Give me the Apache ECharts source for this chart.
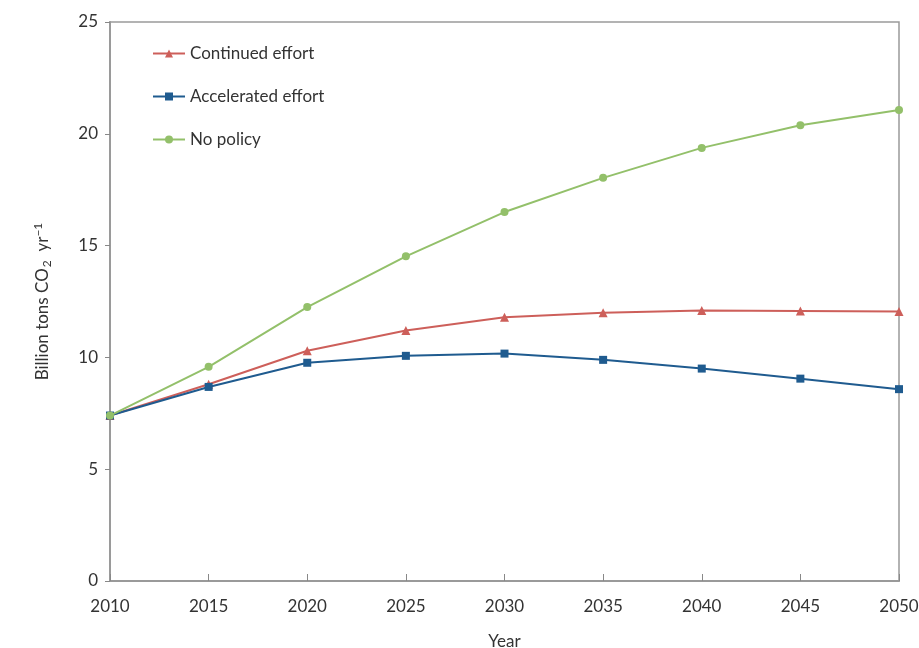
<!DOCTYPE html>
<html>
<head>
<meta charset="utf-8">
<script src="https://cdn.jsdelivr.net/npm/echarts@6/dist/echarts.min.js"></script>
<style>html,body{margin:0;padding:0;background:#fff}#c{width:919px;height:648px}</style>
</head>
<body>
<div id="c"></div>
<script>
const years = [2010, 2015, 2020, 2025, 2030, 2035, 2040, 2045, 2050];
const continuedEffort = [7.4, 8.8, 10.3, 11.2, 11.8, 12.0, 12.1, 12.08, 12.05];
const acceleratedEffort = [7.4, 8.68, 9.76, 10.07, 10.17, 9.89, 9.5, 9.05, 8.58];
const noPolicy = [7.4, 9.58, 12.25, 14.52, 16.5, 18.03, 19.37, 20.38, 21.06];
const seriesNames = ['Continued effort', 'Accelerated effort', 'No policy'];

const FONT = 'Lato, "Open Sans", sans-serif';
const chart = echarts.init(document.getElementById('c'));
function pts(arr){ return years.map((y,i)=>[y, arr[i]]); }
chart.setOption({
  animation: false,
  textStyle: { fontFamily: FONT },
  grid: { left: 110, right: 20, top: 22, bottom: 67, show: true, borderColor: '#9a9a9a', borderWidth: 1.5,
          outerBoundsMode: 'none', containLabel: false },
  legend: {
    orient: 'vertical', left: 147, top: 40, itemGap: 26, itemWidth: 32, itemHeight: 10,
    textStyle: { fontSize: 17, color: '#333', fontFamily: FONT },
    data: seriesNames
  },
  xAxis: {
    type: 'value', min: 2010, max: 2050, interval: 5,
    name: 'Year', nameLocation: 'middle', nameGap: 52,
    nameTextStyle: { fontSize: 17, color: '#333', fontFamily: FONT },
    axisLine: { lineStyle: { color: '#9a9a9a', width: 2 } },
    axisTick: { inside: true, length: 7, lineStyle: { color: '#888' } },
    axisLabel: { fontSize: 17, color: '#333', margin: 17, formatter: v => String(v) },
    splitLine: { show: false }
  },
  yAxis: {
    type: 'value', min: 0, max: 25, interval: 5,
    name: '{a|Billion tons CO}{sub|2}{a|  yr}{sup|\u22121}',
    nameLocation: 'middle', nameGap: 56, nameRotate: 90,
    nameTextStyle: {
      fontSize: 17, color: '#333', fontFamily: FONT,
      rich: {
        a: { fontSize: 17, color: '#333', fontFamily: FONT },
        sub: { fontSize: 12, color: '#333', fontFamily: FONT, padding: [9, 0, 0, 1] },
        sup: { fontSize: 12, color: '#333', fontFamily: FONT, padding: [0, 0, 10, 0] }
      }
    },
    axisLine: { show: true, lineStyle: { color: '#9a9a9a', width: 2 } },
    axisTick: { show: true, inside: false, length: 5, lineStyle: { color: '#888' } },
    axisLabel: { fontSize: 17, color: '#333', margin: 12 },
    splitLine: { show: false }
  },
  series: [
    { name: seriesNames[0], type: 'line', data: pts(continuedEffort), symbol: 'triangle', symbolSize: 9,
      lineStyle: { color: '#cd5f5a', width: 2 }, itemStyle: { color: '#cd5f5a' }, z: 3 },
    { name: seriesNames[1], type: 'line', data: pts(acceleratedEffort), symbol: 'rect', symbolSize: 8,
      lineStyle: { color: '#1f5b8f', width: 2 }, itemStyle: { color: '#1f5b8f' }, z: 4 },
    { name: seriesNames[2], type: 'line', data: pts(noPolicy), symbol: 'circle', symbolSize: 8,
      lineStyle: { color: '#93c06a', width: 2 }, itemStyle: { color: '#93c06a' }, z: 5 }
  ]
});
</script>
</body>
</html>
